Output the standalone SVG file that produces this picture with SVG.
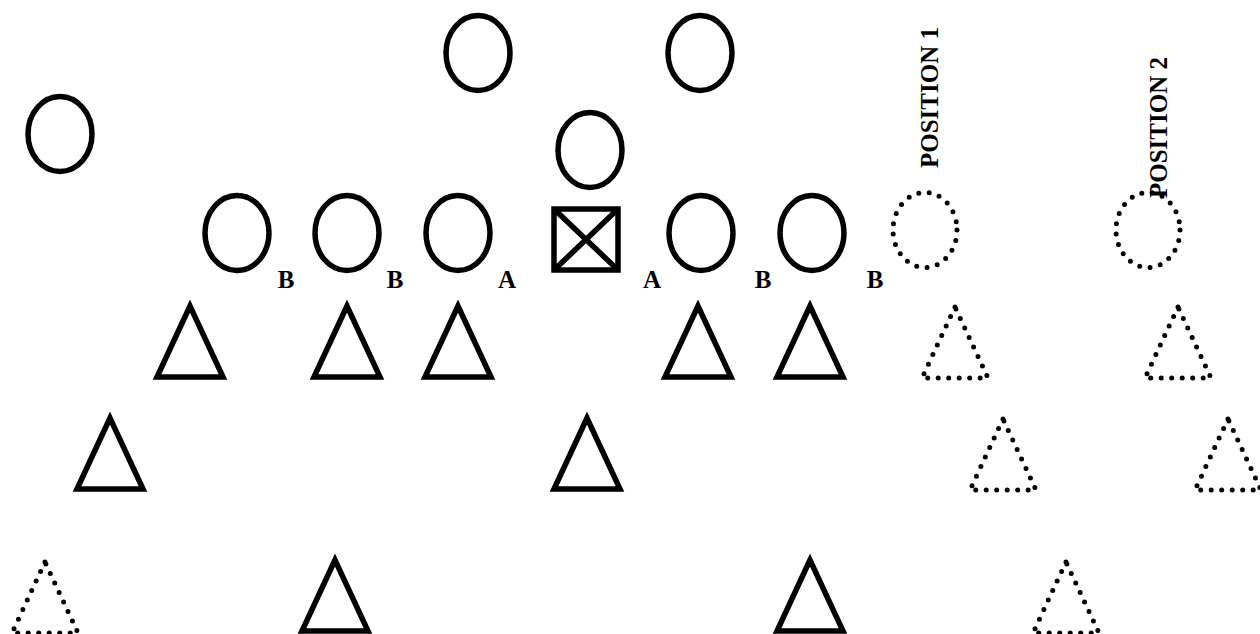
<svg xmlns="http://www.w3.org/2000/svg" width="1260" height="634" viewBox="0 0 1260 634">
<style>
.s{fill:none;stroke:#000;stroke-width:5.5}
.d{fill:none;stroke:#000;stroke-width:5;stroke-dasharray:0 10.5;stroke-linecap:round}
.t{font-family:"Liberation Serif",serif;font-weight:bold;font-size:25px;text-anchor:middle;fill:#000}
.p{font-family:"Liberation Serif",serif;font-weight:bold;font-size:25px;fill:#000}
</style>
<defs>
<path id="tri" d="M0,0 L-33,71 L33,71 Z"/>
<ellipse id="ov" cx="0" cy="0" rx="32" ry="37.5"/>
</defs>
<g id="circles">
<g id="c1"><use href="#ov" class="s" x="478" y="53"/></g>
<g id="c2"><use href="#ov" class="s" x="700" y="53"/></g>
<g id="c3"><use href="#ov" class="s" x="60" y="134"/></g>
<g id="c4"><use href="#ov" class="s" x="590" y="150"/></g>
<g id="c5"><use href="#ov" class="s" x="237" y="233"/></g>
<g id="c6"><use href="#ov" class="s" x="347" y="233"/></g>
<g id="c7"><use href="#ov" class="s" x="458" y="233"/></g>
<g id="c8"><use href="#ov" class="s" x="701" y="233"/></g>
<g id="c9"><use href="#ov" class="s" x="812" y="233"/></g>
<g id="dc1"><use href="#ov" class="d" x="925" y="230"/></g>
<g id="dc2"><use href="#ov" class="d" x="1148" y="230"/></g>
</g>
<g id="center">
<rect class="s" x="554" y="209" width="64" height="61"/>
<path class="s" d="M554,209 L618,270 M618,209 L554,270"/>
</g>
<g id="labels">
<text class="t" x="286" y="288">B</text>
<text class="t" x="395" y="288">B</text>
<text class="t" x="507" y="288">A</text>
<text class="t" x="652" y="288">A</text>
<text class="t" x="763" y="288">B</text>
<text class="t" x="875" y="288">B</text>
<text class="p" transform="translate(938,168) rotate(-90)">POSITION 1</text>
<text class="p" transform="translate(1167,198) rotate(-90)">POSITION 2</text>
</g>
<g id="triangles">
<g id="t1"><use href="#tri" class="s" x="190" y="306"/></g>
<g id="t2"><use href="#tri" class="s" x="347" y="306"/></g>
<g id="t3"><use href="#tri" class="s" x="458" y="306"/></g>
<g id="t4"><use href="#tri" class="s" x="698" y="306"/></g>
<g id="t5"><use href="#tri" class="s" x="810" y="306"/></g>
<g id="t6"><use href="#tri" class="s" x="110" y="418"/></g>
<g id="t7"><use href="#tri" class="s" x="587" y="418"/></g>
<g id="t8"><use href="#tri" class="s" x="335" y="560"/></g>
<g id="t9"><use href="#tri" class="s" x="810" y="560"/></g>
<g id="dt1"><use href="#tri" class="d" x="955" y="307"/></g>
<g id="dt2"><use href="#tri" class="d" x="1178" y="307"/></g>
<g id="dt3"><use href="#tri" class="d" x="1003" y="419"/></g>
<g id="dt4"><use href="#tri" class="d" x="1228" y="419"/></g>
<g id="dt5"><use href="#tri" class="d" x="45" y="562"/></g>
<g id="dt6"><use href="#tri" class="d" x="1066" y="562"/></g>
</g>
</svg>
